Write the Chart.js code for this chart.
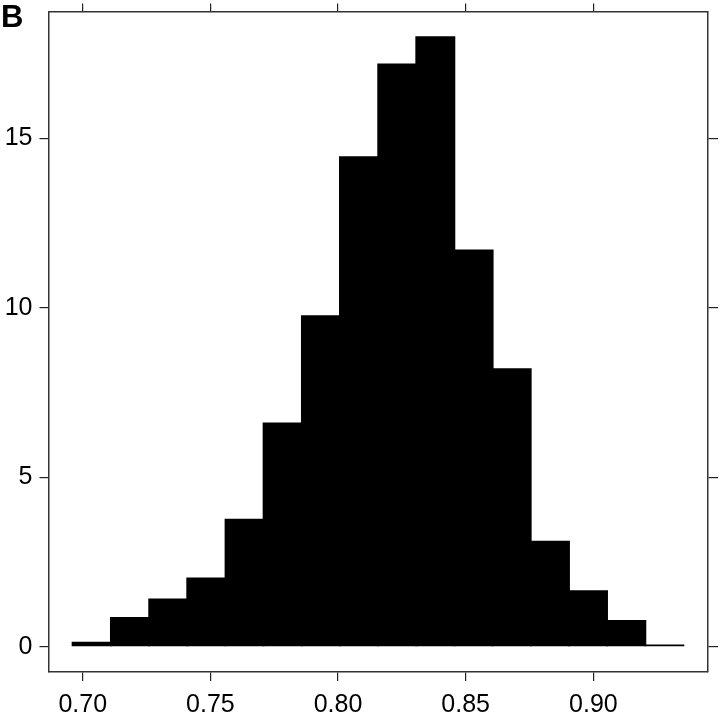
<!DOCTYPE html>
<html>
<head>
<meta charset="utf-8">
<script src="https://cdn.jsdelivr.net/npm/chart.js@4/dist/chart.umd.min.js"></script>
<style>
    body { margin: 0; background: #fff; }
    #wrap { position: relative; width: 720px; height: 714px; }
    #panel {
        position: absolute; left: 1px; top: 1px;
        font: bold 31px "Liberation Sans", Arial, sans-serif; line-height: 1;
        color: #000;
    }
</style>
</head>
<body>
<div id="wrap">
    <canvas id="hist"></canvas>
    <div id="panel">B</div>
</div>
<script>
// bin centres (bin width ~0.015) and bar heights
const binCenters = [0.7035, 0.7185, 0.7335, 0.7484, 0.7634, 0.7783, 0.7933, 0.8082,
                    0.8232, 0.8381, 0.8531, 0.8680, 0.8830, 0.8979, 0.9129, 0.9278]
const heights = [0.15, 0.88, 1.43, 2.05, 3.78, 6.62, 9.78, 14.47,
                 17.21, 18.01, 11.72, 8.22, 3.13, 1.67, 0.79, 0.07]
const xTicks = [0.70, 0.75, 0.80, 0.85, 0.90]
const yTicks = [0, 5, 10, 15]

Chart.defaults.font.family = '"Liberation Sans", Arial, Helvetica, sans-serif'
Chart.defaults.color = '#000'

const xRange = { min: 0.6866, max: 0.9449 }
const yRange = { min: -0.74, max: 18.74 }

function setTicks(list) {
    return (scale) => { scale.ticks = list.map(v => ({ value: v })) }
}

const gridStyle = (len) => ({
    display: true,
    offset: false,
    drawOnChartArea: false,
    drawTicks: true,
    tickLength: len,
    color: '#222',
    lineWidth: 1.2,
})
const borderStyle = { display: true, color: '#333', width: 1.5 }

// fixed box sizes so the plot frame lands where the figure has it
function fixHeight(h) {
    return (s) => { s.height = h; s.paddingLeft = 0; s.paddingRight = 0 }
}
function fixWidth(w) {
    return (s) => { s.width = w; s.paddingTop = 0; s.paddingBottom = 0 }
}

new Chart(document.getElementById('hist'), {
    type: 'bar',
    data: {
        datasets: [{
            data: binCenters.map((x, i) => ({ x: x, y: heights[i] })),
            backgroundColor: '#000',
            borderWidth: 0,
            barPercentage: 1.05,
            categoryPercentage: 1,
        }]
    },
    options: {
        responsive: true,
        maintainAspectRatio: false,
        animation: false,
        layout: { padding: 0 },
        plugins: { legend: { display: false }, tooltip: { enabled: false } },
        scales: {
            x: {
                type: 'linear', position: 'bottom', offset: false,
                min: xRange.min, max: xRange.max,
                grid: gridStyle(9), border: borderStyle,
                ticks: {
                    padding: 9, font: { size: 25 }, color: '#000',
                    maxRotation: 0, autoSkip: false,
                    callback: (v) => v.toFixed(2),
                },
                afterBuildTicks: setTicks(xTicks),
                afterFit: fixHeight(42),
            },
            xTop: {
                type: 'linear', position: 'top', offset: false,
                min: xRange.min, max: xRange.max,
                grid: gridStyle(8), border: borderStyle,
                ticks: { display: false },
                afterBuildTicks: setTicks(xTicks),
                afterFit: fixHeight(11.5),
            },
            y: {
                type: 'linear', position: 'left',
                min: yRange.min, max: yRange.max,
                grid: gridStyle(9), border: borderStyle,
                ticks: { padding: 7, font: { size: 25 }, color: '#000', autoSkip: false },
                afterBuildTicks: setTicks(yTicks),
                afterFit: fixWidth(48.5),
            },
            yRight: {
                type: 'linear', position: 'right',
                min: yRange.min, max: yRange.max,
                grid: gridStyle(10), border: borderStyle,
                ticks: { display: false },
                afterBuildTicks: setTicks(yTicks),
                afterFit: fixWidth(12),
            },
        },
    },
})
</script>
</body>
</html>
